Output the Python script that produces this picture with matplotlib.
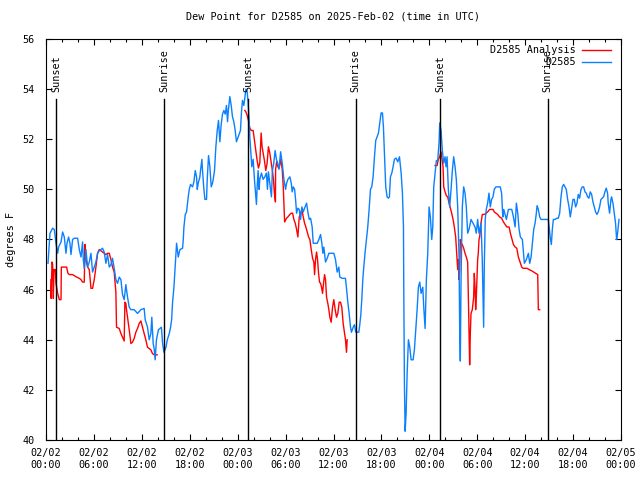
import numpy as np
import pandas as pd
import matplotlib
matplotlib.use("Agg")
import matplotlib.pyplot as plt
import matplotlib.dates as mdates
import matplotlib.transforms as mtransforms
from matplotlib.lines import Line2D

# time in hours after 2025-02-02 00:00 UTC, dew point in degrees F
obs_hours = [0.25, 0.5, 0.83, 1.04, 1.25, 1.46, 1.58, 1.88, 2.08, 2.29, 2.5, 2.63, 2.83, 3.0, 3.13, 3.33,
             3.54, 3.96, 4.17, 4.38, 4.58, 4.67, 4.79, 5.0, 5.21, 5.42, 5.63, 5.83, 6.04, 6.25, 6.46, 6.67,
             7.08, 7.29, 7.5, 7.71, 7.92, 8.13, 8.33, 8.54, 8.75, 8.96, 9.17, 9.38, 9.58, 9.79, 10.0, 10.21,
             10.42, 10.63, 11.04, 11.46, 11.88, 12.29, 12.42, 12.71, 12.92, 13.13, 13.25, 13.42, 13.54, 13.67,
             13.83, 14.08, 14.45, 14.6, 14.77, 15.02, 15.19, 15.44, 15.6, 15.73, 15.85, 16.02, 16.15, 16.27,
             16.35, 16.56, 16.77, 17.1, 17.19, 17.27, 17.44, 17.6, 17.81, 17.94, 18.1, 18.35, 18.52, 18.69,
             18.85, 18.94, 19.06, 19.27, 19.35, 19.52, 19.6, 19.77, 19.9, 20.1, 20.19, 20.35, 20.52, 20.69,
             20.85, 20.94, 21.1, 21.27, 21.44, 21.6, 21.77, 21.94, 22.1, 22.27, 22.44, 22.6, 22.73, 22.85,
             23.02, 23.19, 23.35, 23.52, 23.69, 23.85, 24.02, 24.19, 24.35, 24.48, 24.6, 24.77, 24.94, 25.02,
             25.19, 25.31, 25.44, 25.52, 25.6, 25.77, 25.94, 26.1, 26.27, 26.35, 26.44, 26.56, 26.69, 26.77,
             26.98, 27.19, 27.4, 27.6, 27.73, 27.85, 28.02, 28.23, 28.35, 28.52, 28.69, 28.85, 28.96, 29.17,
             29.38, 29.58, 29.79, 30.0, 30.13, 30.29, 30.54, 30.71, 30.83, 30.96, 31.13, 31.25, 31.38, 31.54,
             31.71, 31.88, 32.04, 32.21, 32.38, 32.63, 32.79, 32.96, 33.13, 33.33, 33.46, 33.75, 33.96, 34.17,
             34.38, 34.54, 34.67, 34.79, 35.0, 35.21, 35.42, 35.63, 36.04, 36.25, 36.46, 36.67, 36.79, 37.08,
             37.29, 37.5, 37.63, 37.79, 37.96, 38.13, 38.25, 38.46, 38.63, 38.79, 38.96, 39.17, 39.29, 39.42,
             39.54, 39.67, 39.79, 39.96, 40.13, 40.29, 40.46, 40.63, 40.79, 40.96, 41.13, 41.29, 41.46, 41.63,
             41.79, 41.96, 42.13, 42.25, 42.38, 42.54, 42.71, 42.88, 43.0, 43.13, 43.3, 43.43, 43.63, 43.84,
             44.05, 44.26, 44.47, 44.63, 44.76, 44.8, 44.88, 44.97, 45.09, 45.22, 45.38, 45.55, 45.72, 45.97,
             46.13, 46.3, 46.47, 46.63, 46.8, 46.97, 47.18, 47.3, 47.47, 47.63, 47.8, 47.97, 48.13, 48.3,
             48.43, 48.55, 48.72, 48.88, 49.05, 49.22, 49.3, 49.47, 49.63, 49.8, 49.97, 50.09, 50.22, 50.38,
             50.55, 50.72, 50.88, 51.05, 51.22, 51.38, 51.55, 51.72, 51.8, 51.88, 51.97, 52.13, 52.3, 52.47,
             52.63, 52.8, 52.97, 53.22, 53.47, 53.72, 53.88, 54.05, 54.22, 54.47, 54.63, 54.8, 54.88, 55.0,
             55.13, 55.3, 55.47, 55.63, 55.8, 55.97, 56.13, 56.34, 56.55, 56.88, 57.05, 57.2, 57.32, 57.49,
             57.65, 57.9, 58.32, 58.53, 58.74, 58.9, 59.07, 59.24, 59.4, 59.65, 59.9, 60.15, 60.4, 60.57,
             60.74, 60.9, 61.07, 61.24, 61.4, 61.49, 61.65, 61.82, 61.99, 62.28, 62.7, 62.9, 63.03, 63.15,
             63.28, 63.4, 63.53, 63.74, 63.95, 64.15, 64.32, 64.49, 64.65, 64.82, 64.99, 65.15, 65.32, 65.49,
             65.65, 65.82, 65.99, 66.15, 66.32, 66.49, 66.65, 66.82, 66.99, 67.15, 67.32, 67.49, 67.65, 67.82,
             67.99, 68.15, 68.32, 68.49, 68.65, 68.82, 68.99, 69.15, 69.32, 69.49, 69.65, 69.82, 69.99, 70.15,
             70.32, 70.4, 70.57, 70.74, 70.82, 70.99, 71.15, 71.32, 71.45, 71.57, 71.75]
obs_dewpt = [47.05, 48.25, 48.45, 48.4, 47.85, 47.45, 47.7, 47.9, 48.3, 48.1, 47.45, 47.85, 48.1, 47.85, 47.4, 48.0,
             48.05, 48.05, 47.6, 47.3, 47.9, 47.2, 46.85, 47.6, 46.9, 47.1, 47.45, 46.7, 46.9, 47.1, 47.45, 47.55,
             47.65, 47.5, 47.05, 47.4, 46.9, 47.0, 47.25, 46.85, 46.4, 46.25, 46.5, 46.4, 45.8, 45.6, 46.2, 45.7,
             45.3, 45.2, 45.2, 45.05, 45.2, 45.25, 44.8, 44.5, 44.0, 44.25, 44.9, 43.85, 43.65, 43.2,
             44.0, 44.4, 44.5, 43.85, 43.5, 43.7, 44.0, 44.25, 44.5, 44.8, 45.5, 46.1, 46.8, 47.45,
             47.85, 47.3, 47.6, 47.65, 48.0, 48.5, 49.0, 49.1, 49.7, 50.0, 50.2, 50.1, 50.3, 50.75,
             50.5, 50.0, 50.25, 50.5, 50.75, 51.2, 50.75, 50.0, 49.6, 49.6, 50.4, 51.35, 50.9, 50.1,
             50.25, 50.4, 50.75, 51.7, 52.35, 52.75, 51.9, 52.6, 53.0, 53.15, 53.0, 53.35, 52.7, 53.2,
             53.7, 53.35, 52.9, 52.7, 52.35, 51.9, 52.05, 52.2, 52.35, 53.1, 53.55, 53.35, 53.75, 54.0,
             53.9, 53.45, 52.75, 52.1, 51.7, 50.9, 51.2, 50.4, 49.7, 49.4, 50.1, 50.75, 50.0, 50.4,
             50.65, 50.4, 50.5, 50.65, 50.0, 50.7, 50.25, 49.7, 50.75, 51.05, 51.55, 51.2, 51.1, 50.8,
             51.5, 51.05, 50.4, 50.0, 50.25, 50.4, 50.5, 50.25, 49.9, 50.1, 50.0, 49.6, 49.05, 49.25,
             49.2, 48.8, 49.3, 49.1, 49.25, 49.45, 49.1, 48.8, 48.85, 48.5, 47.85, 47.85, 47.85, 48.0,
             48.2, 47.85, 47.45, 47.7, 47.1, 47.25, 47.45, 47.45, 47.45, 47.2, 46.7, 46.9, 46.5, 46.45,
             46.45, 46.45, 46.05, 45.5, 45.05, 44.5, 44.3, 44.5, 44.6, 44.3, 44.3, 44.3, 44.6, 45.0,
             45.6, 46.4, 46.9, 47.5, 48.0, 48.5, 49.2, 50.0, 50.1, 50.5, 51.3, 51.95, 52.1, 52.25,
             52.65, 53.05, 53.05, 52.5, 51.45, 50.1, 49.7, 49.65, 49.7, 50.5, 50.65, 50.85, 51.2, 51.25,
             51.1, 51.3, 50.65, 49.85, 48.5, 46.0, 42.25, 40.35, 41.05, 42.65, 44.0, 43.7, 43.2, 43.2,
             43.6, 44.4, 45.2, 46.1, 46.3, 45.85, 46.1, 45.3, 44.45, 46.4, 47.45, 49.3, 48.9, 48.0,
             48.5, 50.1, 50.65, 51.15, 51.15, 51.9, 52.65, 52.35, 51.55, 51.05, 51.3, 50.9, 51.3, 50.0,
             49.3, 50.0, 50.75, 51.3, 50.9, 50.4, 49.3, 47.3, 44.4, 43.15, 46.4, 49.3, 50.1, 49.85,
             49.3, 48.25, 48.4, 48.8, 48.65, 48.5, 48.25, 48.8, 48.25, 48.65, 47.2, 44.5, 46.9, 48.8,
             49.2, 49.45, 49.85, 49.3, 49.6, 49.7, 50.0, 50.1, 50.1, 50.1, 49.85, 48.9, 49.2, 49.0,
             48.8, 49.2, 49.2, 48.9, 48.5, 49.45, 49.05, 48.4, 48.1, 48.0, 47.05, 47.2, 47.45, 47.05,
             47.3, 47.85, 48.4, 48.65, 49.05, 49.35, 49.2, 48.9, 48.8, 48.8, 48.8, 48.8, 48.4, 48.05,
             47.8, 48.4, 48.8, 48.8, 48.85, 48.85, 49.05, 49.7, 50.1, 50.2, 50.1, 50.0, 49.6, 49.3,
             48.9, 49.25, 49.6, 49.6, 49.3, 49.45, 49.8, 49.65, 50.0, 50.1, 50.1, 49.9, 49.85, 49.7,
             49.65, 49.9, 49.8, 49.5, 49.3, 49.1, 49.0, 49.1, 49.3, 49.6, 49.65, 49.7, 49.9, 50.05,
             49.85, 49.45, 49.05, 49.6, 49.7, 49.45, 49.05, 48.65, 48.0, 48.25, 48.8]

# analysis series, NaN marks the gaps between runs
ana_hours = [0.63, 0.64, 0.75, 0.83, 0.92, 1.0, 1.17, 1.25, 1.46, 1.67, 1.88, 1.92, 2.29, 2.58, 2.75, 2.92,
             3.33, 3.83, 4.17, 4.38, 4.58, 4.79, 4.88, 5.0, 5.21, 5.42, 5.63, 5.83, 6.04, 6.25, 6.46, 6.67,
             7.08, 7.29, 7.5, 7.71, 7.92, 8.13, 8.33, 8.54, 8.75, 8.83, 9.17, 9.38, 9.58, 9.79, 9.88, 10.0,
             10.08, 10.21, 10.42, 10.63, 10.83, 11.04, 11.25, 11.46, 11.67, 11.88, 12.08, 12.29, 12.5, 12.71,
             12.92, 13.13, 13.33, 13.54, 13.92, 14.0,
             24.9, 25.02, 25.19, 25.35, 25.52, 25.69, 25.94, 26.1, 26.27, 26.44, 26.6, 26.77, 26.94, 27.06,
             27.19, 27.35, 27.52, 27.69, 27.85, 28.02, 28.19, 28.35, 28.48, 28.6, 28.73, 28.75, 28.88, 29.04,
             29.2, 29.38, 29.58, 29.71, 29.88, 30.13, 30.29, 30.54, 30.71, 30.88, 31.04, 31.21, 31.38, 31.54,
             31.71, 31.88, 32.04, 32.21, 32.38, 32.54, 32.71, 32.88, 33.04, 33.21, 33.38, 33.54, 33.63, 33.75,
             33.88, 34.0, 34.13, 34.25, 34.38, 34.5, 34.63, 34.75, 34.88, 35.0, 35.13, 35.29, 35.42, 35.54,
             35.71, 35.88, 36.04, 36.21, 36.38, 36.54, 36.71, 36.88, 37.04, 37.21, 37.38, 37.5, 37.63, 37.71,
             38.0,
             48.72, 48.97, 49.13, 49.3, 49.47, 49.59, 49.72, 49.8, 49.97, 50.13, 50.3, 50.47, 50.63, 50.8,
             50.97, 51.13, 51.3, 51.38, 51.47, 51.55, 51.63, 51.72, 51.8, 51.88, 51.97, 52.13, 52.3, 52.47,
             52.63, 52.8, 52.88, 52.93, 53.0, 53.05, 53.13, 53.22, 53.38, 53.55, 53.63, 53.72, 53.8, 53.88,
             53.97, 54.05, 54.13, 54.22, 54.3, 54.47, 54.63, 54.88, 55.13, 55.3, 55.55, 55.8, 55.97, 56.13,
             56.34, 56.55, 56.8, 57.05, 57.28, 57.49, 57.7, 57.99, 58.15, 58.32, 58.53, 58.74, 58.95, 59.15,
             59.36, 59.57, 59.74, 59.99, 60.24, 60.49, 60.82, 61.07, 61.32, 61.57, 61.61, 61.65, 61.82]
ana_dewpt = [46.4, 45.65, 47.1, 47.0, 45.65, 46.8, 46.8, 46.25, 45.85, 45.6, 45.6, 46.9, 46.9, 46.9, 46.65, 46.6,
             46.6, 46.5, 46.45, 46.4, 46.3, 46.3, 47.8, 47.2, 46.9, 46.8, 46.05, 46.05, 46.4, 46.9, 47.45, 47.6,
             47.5, 47.45, 47.4, 47.45, 47.45, 47.2, 46.9, 46.7, 45.9, 44.5, 44.45, 44.25, 44.1, 43.95, 45.5, 45.45,
             45.2, 44.9, 44.4, 43.85, 43.9, 44.05, 44.3, 44.45, 44.65, 44.75, 44.5, 44.25, 44.0, 43.7,
             43.65, 43.6, 43.45, 43.4, 43.4, np.nan,
             53.15, 53.1, 52.95, 52.75, 52.45, 52.35, 52.35, 51.95, 51.55, 51.15, 50.85, 51.05, 52.25, 51.7,
             51.45, 51.15, 50.75, 51.05, 51.7, 51.45, 51.1, 50.75, 50.4, 49.85, 49.5, 50.8, 51.1, 50.9,
             50.85, 51.2, 50.8, 50.1, 48.7, 48.85, 48.9, 49.0, 49.05, 49.05, 48.8, 48.65, 48.4, 48.1,
             48.9, 49.05, 49.2, 48.9, 48.65, 48.5, 48.3, 48.1, 48.0, 47.6, 47.25, 47.1, 46.6, 47.2,
             47.5, 47.2, 46.65, 46.3, 46.25, 46.1, 45.85, 46.25, 46.6, 46.4, 45.7, 45.45, 45.2, 44.9,
             44.7, 45.3, 45.6, 45.2, 44.9, 45.05, 45.5, 45.5, 45.3, 44.65, 44.25, 44.0, 43.5, 44.0,
             np.nan,
             50.95, 50.95, 51.2, 51.3, 51.5, 51.2, 50.9, 50.1, 49.9, 49.75, 49.7, 49.45, 49.25, 49.05,
             48.8, 48.5, 48.1, 47.7, 47.3, 46.8, 47.2, 46.4, 46.8, 48.0, 47.85, 47.8, 47.65, 47.45,
             47.3, 47.1, 45.85, 45.0, 43.7, 43.0, 44.25, 45.05, 45.2, 45.7, 46.65, 46.1, 45.2, 45.7,
             46.5, 47.2, 47.45, 48.0, 48.1, 48.65, 49.0, 49.0, 49.05, 49.1, 49.2, 49.2, 49.2, 49.1,
             49.05, 49.0, 48.9, 48.85, 48.7, 48.6, 48.5, 48.5, 48.25, 48.05, 47.8, 47.7, 47.65, 47.3,
             47.1, 46.9, 46.85, 46.85, 46.85, 46.8, 46.75, 46.7, 46.65, 46.6, 45.9, 45.2, 45.2]

# sunrise / sunset markers (hours after start)
sun_hours = [1.27, 14.8, 25.28, 38.8, 49.32, 62.8]
sun_labels = ["Sunset", "Sunrise", "Sunset", "Sunrise", "Sunset", "Sunrise"]

start = pd.Timestamp("2025-02-02 00:00")
to_time = lambda hrs: start + pd.to_timedelta(np.asarray(hrs), unit="h")

font = "DejaVu Sans Mono"
fs = 7.3
blue = "#0a80ff"
red = "#ff0000"

fig = plt.figure(figsize=(6.4, 4.8), dpi=100)
ax = fig.add_axes([46 / 640, 40 / 480, 575 / 640, 401 / 480])

ax.plot(to_time(ana_hours), ana_dewpt, color=red, lw=1.0)
ax.plot(to_time(obs_hours), obs_dewpt, color=blue, lw=1.0)

trans = mtransforms.blended_transform_factory(ax.transData, ax.transAxes)
for h, lab in zip(sun_hours, sun_labels):
    t = mdates.date2num(to_time([h])[0])
    ax.plot([t, t], [0, 0.85], color="black", lw=1.0, transform=trans)
    ax.text(t, 0.868, lab, rotation=90, ha="center", va="bottom", transform=trans,
            family=font, fontsize=fs)

ax.set_xlim(start, start + pd.Timedelta(hours=72))
ax.set_ylim(40, 56)
ax.set_yticks(np.arange(40, 57, 2))
ax.xaxis.set_major_locator(mdates.HourLocator(byhour=[0, 6, 12, 18]))
ax.xaxis.set_minor_locator(mdates.HourLocator(byhour=range(0, 24, 2)))
ax.xaxis.set_major_formatter(mdates.DateFormatter("%m/%d\n%H:%M"))
ax.tick_params(which="both", direction="in", top=True, right=True, width=0.8)
ax.tick_params(which="major", length=4.5, pad=6)
ax.tick_params(which="minor", length=2.5)
ax.tick_params(axis="y", pad=8)
for lbl in ax.get_xticklabels() + ax.get_yticklabels():
    lbl.set_family(font)
    lbl.set_fontsize(fs)
for sp in ax.spines.values():
    sp.set_linewidth(0.8)

ax.set_ylabel("degrees F", family=font, fontsize=fs, labelpad=5)
ax.set_title("Dew Point for D2585 on 2025-Feb-02 (time in UTC)", family=font, fontsize=fs, pad=14)

# gnuplot-like key: right-aligned text, sample line on the right
for i, (lab, col) in enumerate([("D2585 Analysis", red), ("D2585", blue)]):
    yy = 0.973 - i * 0.031
    ax.text(0.921, yy, lab, ha="right", va="center", transform=ax.transAxes,
            family=font, fontsize=fs)
    ax.add_line(Line2D([0.933, 0.982], [yy, yy], color=col, lw=1.0, transform=ax.transAxes))

fig.savefig("out.png", dpi=100)
